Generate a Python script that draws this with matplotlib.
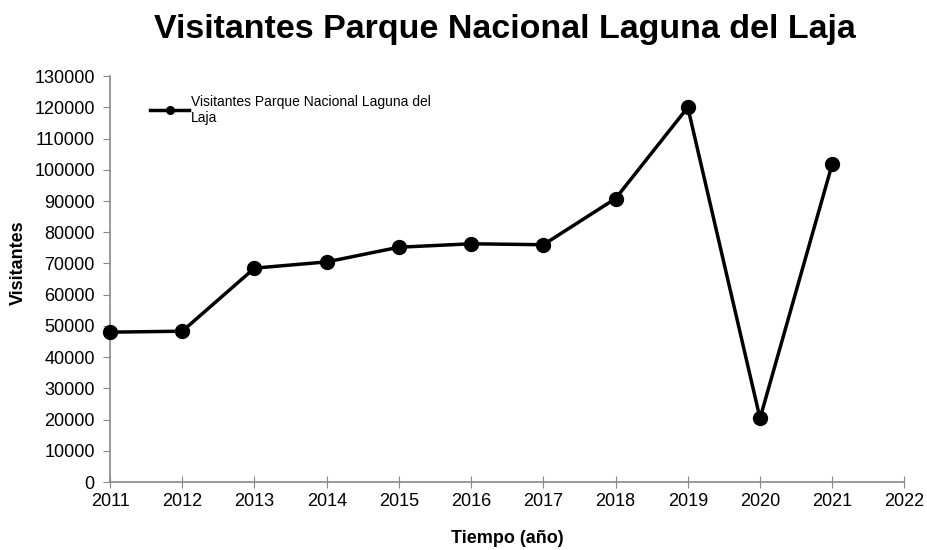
import matplotlib
matplotlib.use("Agg")
import matplotlib.pyplot as plt

years = [2011, 2012, 2013, 2014, 2015, 2016, 2017, 2018, 2019, 2020, 2021]
visitors = [48000, 48300, 68500, 70500, 75200, 76300, 76000, 90800, 120000, 20400, 101900]
series_label = "Visitantes Parque Nacional Laguna del\nLaja"
title = "Visitantes Parque Nacional Laguna del Laja"
xlabel = "Tiempo (año)"
ylabel = "Visitantes"

plt.rcParams['font.family'] = ['Liberation Sans', 'DejaVu Sans']

fig = plt.figure(figsize=(9.27, 5.5), dpi=100)
ax = fig.add_axes([0.1187, 0.1236, 0.857, 0.738])
ax.plot(years, visitors, color='black', lw=2.5, marker='o', ms=10,
        label=series_label, clip_on=False, zorder=3)

ax.set_xlim(2011, 2022)
ax.set_ylim(0, 130000)
ax.set_xticks(range(2011, 2023))
ax.set_yticks(range(0, 130001, 10000))
for s in ['top', 'right']:
    ax.spines[s].set_visible(False)
for s in ['left', 'bottom']:
    ax.spines[s].set_color('#888888')
    ax.spines[s].set_linewidth(1.2)
ax.tick_params(axis='y', direction='out', length=5, color='#888888', labelsize=13, pad=6)
ax.tick_params(axis='x', direction='inout', length=8, color='#888888', labelsize=13, pad=4)
for lbl in ax.get_xticklabels():
    lbl.set_family(['Liberation Sans Narrow', 'Liberation Sans'])

fig.suptitle(title, fontsize=24.5, fontweight='bold', x=0.545, y=0.975)
ax.set_xlabel(xlabel, fontsize=13, fontweight='bold')
ax.xaxis.set_label_coords(0.5, -0.118)
ax.set_ylabel(ylabel, fontsize=13, fontweight='bold')
ax.yaxis.set_label_coords(-0.105, 0.54)

leg = ax.legend(loc='upper left', bbox_to_anchor=(0.035, 0.985), frameon=False,
                fontsize=10, handlelength=2.8, markerscale=0.55, handletextpad=0.1)

fig.savefig("out.png", dpi=100)
